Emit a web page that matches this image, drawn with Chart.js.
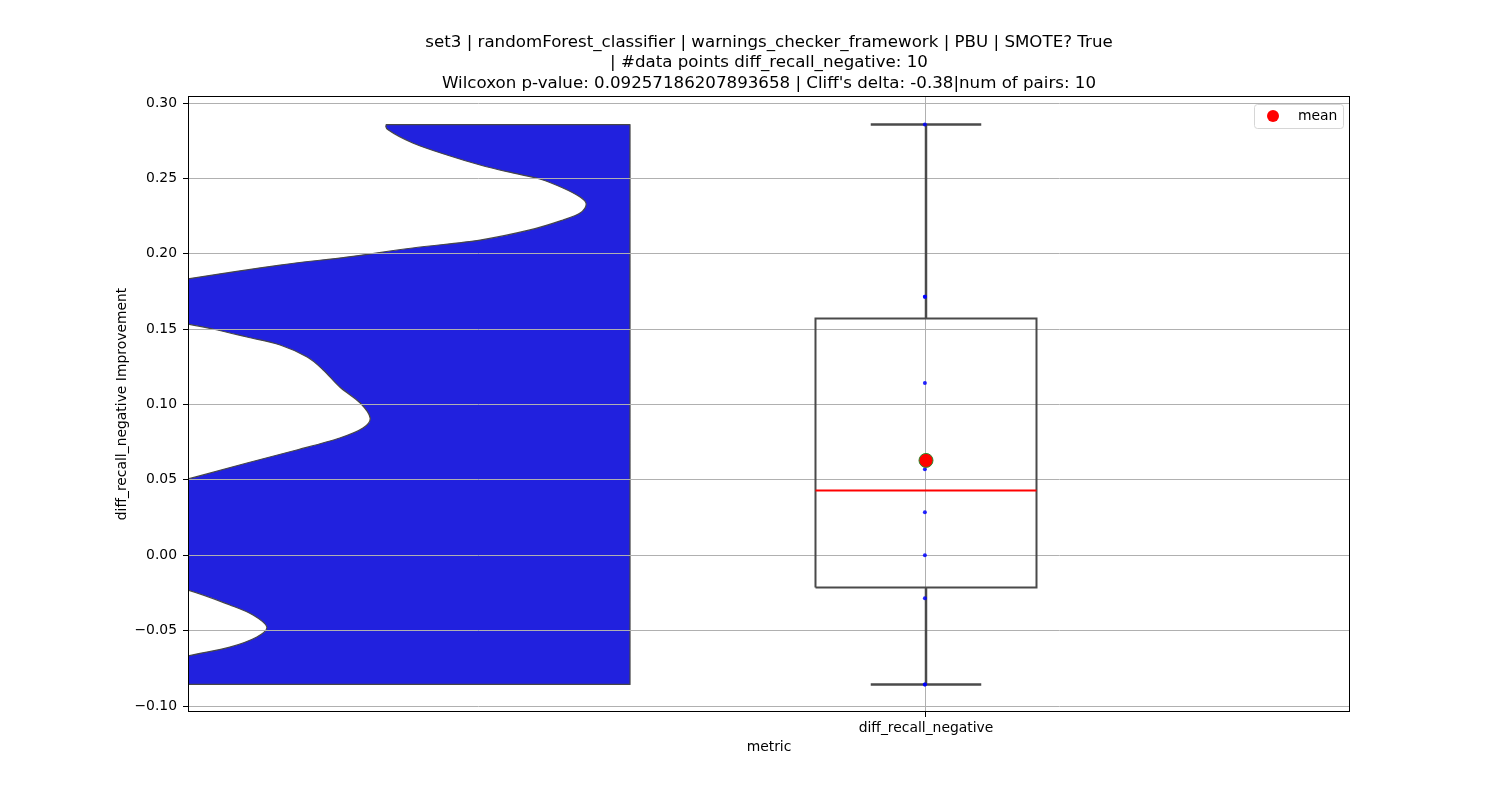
<!DOCTYPE html>
<html>
<head>
<meta charset="utf-8">
<script src="https://cdn.jsdelivr.net/npm/chart.js@4.4.1/dist/chart.umd.min.js"></script>
<style>
html,body{margin:0;padding:0;background:#ffffff;}
#wrap{width:1500px;height:800px;}
</style>
</head>
<body>
<div id="wrap"><canvas id="c" width="1500" height="800"></canvas></div>
<script>
// ---------------- data ----------------
const titleLines = [
  "set3 | randomForest_classifier | warnings_checker_framework | PBU | SMOTE? True",
  "| #data points diff_recall_negative: 10",
  "Wilcoxon p-value: 0.09257186207893658 | Cliff's delta: -0.38|num of pairs: 10"
];
const categories = ["diff_recall_negative"];
const values = [-0.0857, -0.0857, -0.0286, 0.0, 0.0286, 0.0571, 0.1143, 0.1714, 0.1714, 0.2857];
const quartiles = [-0.0214, 0.0429, 0.1571];   // Q1, median, Q3
const whiskers = [-0.0857, 0.2857];            // low, high
const meanValues = [0.0629];
const yTicks = [-0.10, -0.05, 0.00, 0.05, 0.10, 0.15, 0.20, 0.25, 0.30];
// violin outline (value, horizontal offset from category centre)
const violinY = [0.2857, 0.2821, 0.2735, 0.2655, 0.2589, 0.2536, 0.2496, 0.2436, 0.2376, 0.2330,
  0.2270, 0.2224, 0.2158, 0.2091, 0.2038, 0.1978, 0.1925, 0.1833, 0.1760, 0.1607,
  0.1534, 0.1501, 0.1448, 0.1395, 0.1315, 0.1229, 0.1116, 0.1010, 0.0910, 0.0844,
  0.0778, 0.0698, 0.0612, 0.0506, 0.0400, -0.0120, -0.0231, -0.0330, -0.0396, -0.0476,
  -0.0542, -0.0609, -0.0668, -0.0761, -0.0857];
const violinX = [-0.977, -0.973, -0.929, -0.867, -0.807, -0.748, -0.699, -0.657, -0.626, -0.615,
  -0.626, -0.657, -0.717, -0.807, -0.929, -1.048, -1.169, -1.336, -1.45, -1.45,
  -1.336, -1.291, -1.229, -1.169, -1.120, -1.091, -1.061, -1.024, -1.006, -1.019,
  -1.061, -1.139, -1.229, -1.336, -1.45, -1.45, -1.336, -1.260, -1.218, -1.193,
  -1.211, -1.260, -1.336, -1.45, -1.45];
const violinEdge = -0.5357;

// ---------------- styling constants ----------------
const FONT = "'DejaVu Sans', 'Liberation Sans', sans-serif";
const BOX_HALF = 0.2, CAP_HALF = 0.1;
const LINE_GRAY = '#4a4a4a';
Chart.defaults.font.family = FONT;
Chart.defaults.font.size = 13.9;
Chart.defaults.color = '#000000';

const [q1, med, q3] = quartiles;
const [wLo, wHi] = whiskers;

const violinPlugin = {
  id: 'violin',
  beforeDraw(chart) {
    const {ctx, chartArea, scales} = chart;
    const xs = scales.x, ys = scales.y;
    const pts = violinY.map((v, i) => [xs.getPixelForValue(violinX[i]), ys.getPixelForValue(v)]);
    ctx.save();
    ctx.beginPath();
    ctx.rect(chartArea.left, chartArea.top, chartArea.right - chartArea.left, chartArea.bottom - chartArea.top);
    ctx.clip();
    ctx.beginPath();
    const ex = xs.getPixelForValue(violinEdge);
    ctx.moveTo(ex, pts[0][1]);
    ctx.lineTo(pts[0][0], pts[0][1]);
    for (let i = 0; i < pts.length - 1; i++) {
      const p0 = pts[Math.max(i - 1, 0)], p1 = pts[i], p2 = pts[i + 1], p3 = pts[Math.min(i + 2, pts.length - 1)];
      const c1x = p1[0] + (p2[0] - p0[0]) / 6, c1y = p1[1] + (p2[1] - p0[1]) / 6;
      const c2x = p2[0] - (p3[0] - p1[0]) / 6, c2y = p2[1] - (p3[1] - p1[1]) / 6;
      ctx.bezierCurveTo(c1x, c1y, c2x, c2y, p2[0], p2[1]);
    }
    ctx.lineTo(ex, pts[pts.length - 1][1]);
    ctx.closePath();
    ctx.fillStyle = 'rgb(33,33,222)';
    ctx.fill();
    ctx.lineWidth = 1.2;
    ctx.strokeStyle = '#474747';
    ctx.lineJoin = 'round';
    ctx.stroke();
    ctx.restore();
  },
  afterDraw(chart) {
    const {ctx, chartArea} = chart;
    ctx.save();
    // axes frame
    ctx.strokeStyle = '#000000';
    ctx.lineWidth = 1;
    ctx.strokeRect(Math.round(chartArea.left) + 0.5, Math.round(chartArea.top) + 0.5,
      Math.round(chartArea.right - chartArea.left) - 1, Math.round(chartArea.bottom - chartArea.top) - 1);
    // legend
    const ds = chart.data.datasets[0];
    const bw = 89, bh = 24;
    const bx = chartArea.right - 7 - bw, by = chartArea.top + 8;
    ctx.beginPath();
    if (ctx.roundRect) ctx.roundRect(bx + 0.5, by + 0.5, bw, bh, 3); else ctx.rect(bx + 0.5, by + 0.5, bw, bh);
    ctx.fillStyle = 'rgba(255,255,255,0.8)';
    ctx.fill();
    ctx.strokeStyle = '#d6d6d6';
    ctx.lineWidth = 1;
    ctx.stroke();
    ctx.beginPath();
    ctx.arc(bx + 19, by + 12, 6, 0, Math.PI * 2);
    ctx.fillStyle = ds.backgroundColor;
    ctx.fill();
    ctx.fillStyle = '#000000';
    ctx.font = '13.9px ' + FONT;
    ctx.textBaseline = 'middle';
    ctx.textAlign = 'left';
    ctx.fillText(ds.label, bx + 44, by + 12.5);
    ctx.restore();
  }
};

const line = (pts, color, width) => ({
  type: 'scatter', data: pts, showLine: true, borderColor: color, borderWidth: width,
  pointRadius: 0, pointHoverRadius: 0, fill: false, tension: 0
});

const config = {
  type: 'scatter',
  data: {
    datasets: [
      { label: 'mean', data: meanValues.map(v => ({x: 0, y: v})), pointRadius: 7, backgroundColor: '#ff0000',
        borderColor: '#2e8b2e', borderWidth: 1, pointHoverRadius: 7 },
      { label: 'points', data: values.map(v => ({x: -0.002, y: v})), pointRadius: 2, backgroundColor: 'rgba(0,0,255,0.85)',
        borderWidth: 0, pointHoverRadius: 2 },
      line([{x: -BOX_HALF, y: med}, {x: BOX_HALF, y: med}], '#ff0000', 2),
      line([{x: -BOX_HALF, y: q1}, {x: BOX_HALF, y: q1}, {x: BOX_HALF, y: q3}, {x: -BOX_HALF, y: q3}, {x: -BOX_HALF, y: q1}], LINE_GRAY, 2),
      line([{x: 0, y: q3}, {x: 0, y: wHi}], LINE_GRAY, 2.5),
      line([{x: 0, y: q1}, {x: 0, y: wLo}], LINE_GRAY, 2.5),
      line([{x: -CAP_HALF, y: wHi}, {x: CAP_HALF, y: wHi}], LINE_GRAY, 2.5),
      line([{x: -CAP_HALF, y: wLo}, {x: CAP_HALF, y: wLo}], LINE_GRAY, 2.5)
    ]
  },
  options: {
    responsive: false,
    animation: false,
    devicePixelRatio: 1,
    layout: { padding: { left: 110, right: 72, top: 20, bottom: 40 } },
    plugins: {
      legend: { display: false },
      tooltip: { enabled: false },
      title: {
        display: true, text: titleLines, color: '#000000',
        font: { size: 16.67, weight: 'normal', family: FONT, lineHeight: 1.23 },
        padding: { top: 12.25, bottom: 2.25 }
      }
    },
    scales: {
      x: {
        type: 'linear', position: 'bottom', min: -1.3357, max: 0.7674,
        afterBuildTicks: s => { s.ticks = [{value: 0}]; },
        afterFit: s => { s.height = 48; },
        ticks: { callback: (v, i) => categories[i], padding: 3, maxRotation: 0, color: '#000000' },
        grid: { color: '#b0b0b0', lineWidth: 1, tickColor: '#000000', tickLength: 5, tickWidth: 1 },
        border: { display: false },
        title: { display: true, text: 'metric', color: '#000000', font: { size: 13.9 }, padding: { top: 4, bottom: 4 } }
      },
      y: {
        type: 'linear', position: 'left', min: -0.10398, max: 0.30464,
        afterBuildTicks: s => { s.ticks = yTicks.map(v => ({value: v})); },
        afterFit: s => { s.width = 78; },
        ticks: { callback: v => (v < -1e-9 ? '\u2212' : '') + Math.abs(v).toFixed(2), padding: 6, color: '#000000' },
        grid: { color: '#b0b0b0', lineWidth: 1, tickColor: '#000000', tickLength: 5, tickWidth: 1 },
        border: { display: false },
        title: { display: true, text: 'diff_recall_negative Improvement', color: '#000000', font: { size: 13.9 }, padding: { top: 4, bottom: 4 } }
      },
      y2: {
        type: 'linear', position: 'right', display: true,
        afterFit: s => { s.width = 78; },
        ticks: { display: false },
        grid: { display: false, drawTicks: false },
        border: { display: false }
      }
    }
  },
  plugins: [violinPlugin]
};

new Chart(document.getElementById('c'), config);
</script>
</body>
</html>
